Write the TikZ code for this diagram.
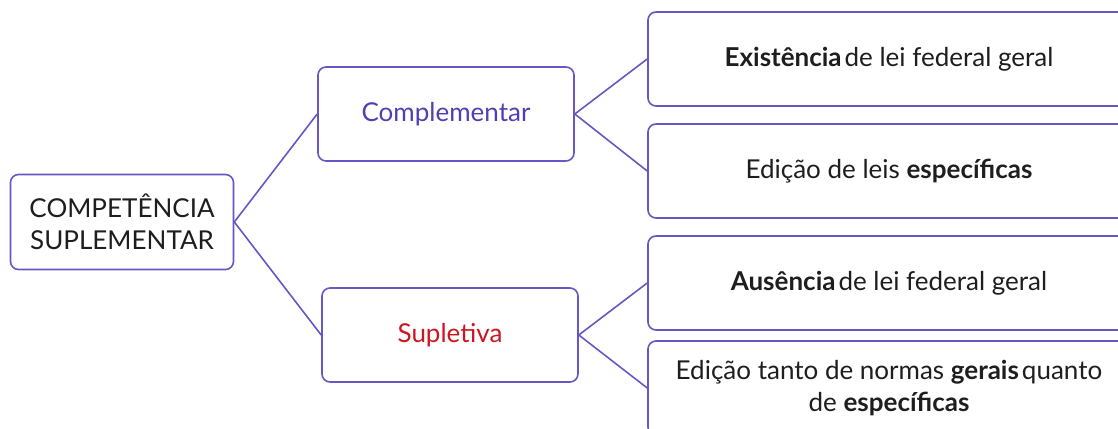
\documentclass[tikz,border=0pt]{standalone}
\usepackage{fontspec}
\setmainfont{Lato}
\definecolor{roxo}{RGB}{104,86,198}
\definecolor{roxotexto}{RGB}{84,62,182}
\definecolor{vermelho}{RGB}{204,22,34}
\definecolor{tinta}{RGB}{30,30,30}
\begin{document}
\begin{tikzpicture}[
    x=1pt,y=-1pt,
    caixa/.style={draw=roxo, line width=1.6pt, rounded corners=8pt, fill=white, text=tinta,
      align=center, inner sep=0pt, font=\fontsize{26}{32}\selectfont},
    ramo/.style={draw=roxo, line width=1.6pt}
    ]
    \clip (0,0) rectangle (1118,428);
    \useasboundingbox (0,0) rectangle (1118,428);
    % raiz e ramos
    \node[caixa, minimum width=223pt, minimum height=95pt] (raiz) at (122,222)
      {COMPETÊNCIA\\SUPLEMENTAR};
    \node[caixa, minimum width=256pt, minimum height=94pt, text=roxotexto] (comp) at (446,114)
      {Complementar};
    \node[caixa, minimum width=256pt, minimum height=94pt, text=vermelho] (supl) at (450,335)
      {Supletiva};
    % folhas
    \node[caixa, minimum width=482pt, minimum height=94pt] (exist) at (889,59)
      {\textbf{Existência}\hspace{3pt}de lei federal geral};
    \node[caixa, minimum width=482pt, minimum height=94pt] (edic) at (889,171)
      {Edição de leis \textbf{específicas}};
    \node[caixa, minimum width=482pt, minimum height=94pt] (ausen) at (889,283)
      {\textbf{Ausência}\hspace{3pt}de lei federal geral};
    \node[caixa, minimum width=482pt, minimum height=94pt] (norm) at (889,388)
      {Edição tanto de normas \textbf{gerais}\hspace{3pt}quanto\\de \textbf{específicas}};
    % ligacoes
    \draw[ramo] (raiz.east) -- (comp.west);
    \draw[ramo] (raiz.east) -- (supl.west);
    \draw[ramo] (comp.east) -- (exist.west);
    \draw[ramo] (comp.east) -- (edic.west);
    \draw[ramo] (supl.east) -- (ausen.west);
    \draw[ramo] (supl.east) -- (norm.west);
  \end{tikzpicture}
\end{document}
